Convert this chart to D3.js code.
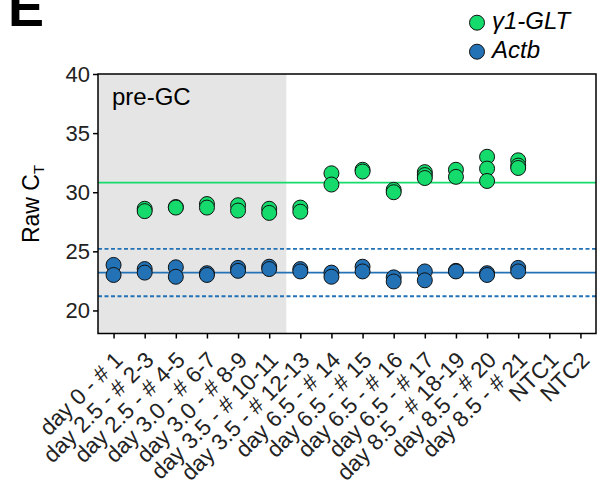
<!DOCTYPE html>
<html>
<head>
<meta charset="utf-8">
<script src="https://cdn.jsdelivr.net/npm/d3@7"></script>
<style>
  body { margin: 0; background: #fff; }
  text { font-family: "Liberation Sans", Arial, Helvetica, sans-serif; fill: #000; }
  .axis path, .axis line { stroke: #000; stroke-width: 1.5; }
  .axis text { font-size: 22px; fill: #222; }
  .xaxis text { font-size: 22.5px; }
</style>
</head>
<body>
<div id="content"></div>
<script>
var Width = 613;
var Height = 487;

// categories along x
var categories = [
  "day 0 - # 1", "day 2.5 - # 2-3", "day 2.5 - # 4-5", "day 3.0 - # 6-7",
  "day 3.0 - # 8-9", "day 3.5 - # 10-11", "day 3.5 - # 12-13", "day 6.5 - # 14",
  "day 6.5 - # 15", "day 6.5 - # 16", "day 6.5 - # 17", "day 8.5 - # 18-19",
  "day 8.5 - # 20", "day 8.5 - # 21", "NTC1", "NTC2"
];
// raw Ct replicates per category
var gltValues = [
  [], [28.6, 28.4], [28.75, 28.7], [29.0, 28.7], [28.9, 28.45], [28.6, 28.25],
  [28.7, 28.35], [31.6, 30.65], [31.9, 31.75], [30.2, 30.0], [31.7, 31.45, 31.2],
  [31.9, 31.3], [33.0, 32.0, 30.95], [32.7, 32.25, 32.05], [], []
];
var actbValues = [
  [23.85, 23.0], [23.5, 23.2], [23.65, 22.85], [23.15, 23.0], [23.6, 23.35], [23.7, 23.5],
  [23.5, 23.3], [23.2, 22.85], [23.7, 23.3], [22.8, 22.45], [23.3, 22.55],
  [23.35, 23.3], [23.15, 23.0], [23.6, 23.3], [], []
];
var gltMean = 30.82;
var actbMean = 23.2;
var actbSpread = 2;
var yTicks = [20, 25, 30, 35, 40];
var preGCCount = 6;

var green = "#14db6c";
var blue = "#2272b5";

var margin = { left: 98, right: 17, top: 74, bottom: 153.5 };

var svg = d3.select("#content").append("svg")
  .attr("width", Width)
  .attr("height", Height);

var xScale = d3.scalePoint()
  .domain(categories)
  .range([margin.left, Width - margin.right])
  .padding(0.5);

var yScale = d3.scaleLinear()
  .domain([18.05, 40])
  .range([Height - margin.bottom, margin.top]);

var step = xScale.step();

// pre-GC shading
svg.append("rect")
  .attr("x", margin.left)
  .attr("y", margin.top)
  .attr("width", xScale(categories[preGCCount - 1]) + step * 0.55 - margin.left)
  .attr("height", Height - margin.bottom - margin.top)
  .attr("fill", "#e5e5e5");

svg.append("text")
  .attr("x", margin.left + 14)
  .attr("y", margin.top + 31)
  .style("font-size", "24px")
  .text("pre-GC");

// mean lines
function hline(v, color, dash) {
  svg.append("line")
    .attr("x1", margin.left)
    .attr("x2", Width - margin.right)
    .attr("y1", yScale(v))
    .attr("y2", yScale(v))
    .attr("stroke", color)
    .attr("stroke-width", 1.8)
    .attr("stroke-dasharray", dash ? "4,2.5" : null);
}
hline(gltMean, green, false);
hline(actbMean, blue, false);
hline(actbMean + actbSpread, blue, true);
hline(actbMean - actbSpread, blue, true);

// points
function flatten(values) {
  var arr = [];
  values.forEach(function (vals, i) {
    vals.forEach(function (v) { arr.push([categories[i], v]); });
  });
  return arr;
}
function drawPoints(values, color) {
  svg.append("g").selectAll("circle")
    .data(flatten(values))
    .enter()
    .append("circle")
    .attr("cx", function (d) { return xScale(d[0]); })
    .attr("cy", function (d) { return yScale(d[1]); })
    .attr("r", 7.5)
    .attr("fill", color)
    .attr("stroke", "#111")
    .attr("stroke-width", 1);
}
drawPoints(gltValues, green);
drawPoints(actbValues, blue);

// frame
svg.append("rect")
  .attr("x", margin.left)
  .attr("y", margin.top)
  .attr("width", Width - margin.left - margin.right)
  .attr("height", Height - margin.bottom - margin.top)
  .attr("fill", "none")
  .attr("stroke", "#000")
  .attr("stroke-width", 1.5);

// axes
var yAxis = d3.axisLeft(yScale).tickValues(yTicks).tickSize(5).tickPadding(3);
svg.append("g")
  .attr("class", "axis")
  .attr("transform", "translate(" + margin.left + ",0)")
  .call(yAxis)
  .call(function (g) { g.select(".domain").remove(); });

var xAxis = d3.axisBottom(xScale).tickSize(5).tickPadding(3);
svg.append("g")
  .attr("class", "axis xaxis")
  .attr("transform", "translate(0," + (Height - margin.bottom) + ")")
  .call(xAxis)
  .call(function (g) { g.select(".domain").remove(); })
  .selectAll("text")
  .attr("text-anchor", "end")
  .attr("dy", 0)
  .attr("transform", "translate(10,28) rotate(-45)")
  .attr("x", 0)
  .attr("y", 0);

// y label
svg.append("text")
  .attr("transform", "translate(39,204) rotate(-90)")
  .attr("text-anchor", "middle")
  .style("font-size", "23px")
  .html('Raw C<tspan dy="5" font-size="15px">T</tspan>');

// panel letter
svg.append("text")
  .attr("x", 8)
  .attr("y", 26)
  .style("font-size", "54px")
  .style("font-weight", "bold")
  .text("E");

// legend
var legend = [["\u03b31-GLT", green], ["Actb", blue]];
legend.forEach(function (d, i) {
  var y = 22.7 + i * 29;
  svg.append("circle")
    .attr("cx", 477)
    .attr("cy", y)
    .attr("r", 7.5)
    .attr("fill", d[1])
    .attr("stroke", "#111")
    .attr("stroke-width", 1);
  svg.append("text")
    .attr("x", 492)
    .attr("y", y + 6.5)
    .style("font-size", "24px")
    .style("font-style", "italic")
    .text(d[0]);
});
</script>
</body>
</html>
